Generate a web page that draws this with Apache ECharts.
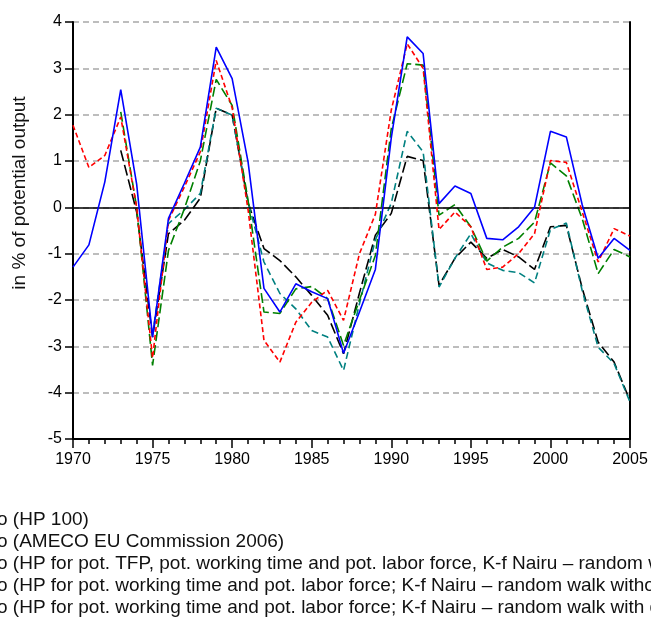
<!DOCTYPE html>
<html>
<head>
<meta charset="utf-8">
<script src="https://cdn.jsdelivr.net/npm/echarts@6/dist/echarts.min.js"></script>
<style>
    body { margin: 0; background: #ffffff; }
    #main { width: 651px; height: 620px; }
</style>
</head>
<body>
<div id="main"></div>
<script>
// years 1970 - 2005
let years = [];
for (let y = 1970; y <= 2005; y++) years.push(y);

let names = [
    'o (HP 100)',
    'o (AMECO EU Commission 2006)',
    'o (HP for pot. TFP, pot. working time and pot. labor force, K-f Nairu \u2013 random walk with drift)',
    'o (HP for pot. working time and pot. labor force; K-f Nairu \u2013 random walk without drift)',
    'o (HP for pot. working time and pot. labor force; K-f Nairu \u2013 random walk with drift)'
];

let hp100 = [-1.29, -0.81, 0.55, 2.54, 0.5, -2.8, -0.24, 0.52, 1.3, 3.46,
    2.78, 0.98, -1.75, -2.26, -1.65, -1.82, -1.97, -3.15, -2.26, -1.34,
    1.5, 3.68, 3.32, 0.08, 0.46, 0.3, -0.67, -0.7, -0.42, 0.0,
    1.64, 1.52, 0.05, -1.1, -0.67, -0.93];

let ameco = [1.77, 0.86, 1.12, 1.95, 0.0, -3.25, -0.28, 0.44, 1.2, 3.17,
    2.15, -0.05, -2.87, -3.34, -2.48, -2.05, -1.79, -2.44, -1.0, -0.15,
    2.1, 3.53, 3.0, -0.48, -0.1, -0.42, -1.34, -1.29, -1.0, -0.57,
    1.01, 0.97, -0.1, -1.18, -0.46, -0.62];

let hpTfp = [null, null, null, 2.06, 0.0, -3.41, -0.93, -0.03, 1.0, 2.76,
    2.2, 0.15, -2.26, -2.29, -1.76, -1.71, -1.97, -2.98, -2.0, -1.04,
    1.7, 3.1, 3.07, -0.17, 0.06, -0.42, -1.16, -0.86, -0.67, -0.32,
    0.96, 0.68, -0.25, -1.43, -0.91, -1.07];

let rwNoDrift = [null, null, null, 1.23, -0.1, -2.8, -0.57, -0.28, 0.2, 2.14,
    1.99, 0.1, -0.89, -1.15, -1.5, -1.9, -2.33, -3.16, -1.85, -0.6,
    -0.13, 1.1, 1.01, -1.68, -1.1, -0.75, -1.1, -0.91, -1.07, -1.34,
    -0.42, -0.39, -1.75, -2.91, -3.34, -4.17];

let rwDrift = [null, null, null, null, null, -2.75, -0.35, -0.05, 0.3, 2.14,
    1.99, 0.12, -1.18, -1.86, -2.19, -2.66, -2.8, -3.52, -2.08, -0.7,
    0.09, 1.64, 1.2, -1.72, -1.1, -0.57, -1.2, -1.36, -1.41, -1.63,
    -0.48, -0.34, -1.8, -3.02, -3.37, -4.2];

function pairs(values) {
    return years.map(function (y, i) { return [y, values[i]]; });
}

let chart = echarts.init(document.getElementById('main'));

let option = {
    backgroundColor: '#ffffff',
    animation: false,
    textStyle: { fontFamily: 'Liberation Sans, Arial, sans-serif' },
    grid: {
        left: 73,
        right: 21,
        top: 22,
        bottom: 181,
        show: true,
        backgroundColor: '#ffffff',
        borderWidth: 0
    },
    // legend swatches sit off the left edge, as in the cropped original
    legend: {
        orient: 'vertical',
        left: -34,
        top: 510,
        height: 200,
        padding: 0,
        itemWidth: 25,
        itemHeight: 14,
        itemGap: 3,
        textStyle: { fontSize: 19, color: '#111111' },
        data: names
    },
    graphic: [
        {
            type: 'text',
            x: 10,
            y: 193,
            rotation: Math.PI / 2,
            style: {
                text: 'in % of potential output',
                font: '19px Liberation Sans, Arial, sans-serif',
                fill: '#111111',
                align: 'center',
                verticalAlign: 'top'
            }
        }
    ],
    xAxis: {
        type: 'value',
        min: 1970,
        max: 2005,
        interval: 5,
        axisLine: { onZero: false, lineStyle: { color: '#000000', width: 2 } },
        axisTick: { length: 9, lineStyle: { color: '#000000', width: 1.5 } },
        minorTick: { show: true, splitNumber: 5, length: 5, lineStyle: { color: '#000000', width: 1.5 } },
        axisLabel: {
            fontSize: 16,
            color: '#000000',
            margin: 13,
            formatter: function (v) { return String(v); }
        },
        splitLine: { show: false }
    },
    yAxis: [
        {
            type: 'value',
            min: -5,
            max: 4,
            interval: 1,
            axisLine: { show: true, lineStyle: { color: '#000000', width: 2 } },
            axisTick: { show: true, length: 8, lineStyle: { color: '#000000', width: 1.5 } },
            axisLabel: { fontSize: 16, color: '#000000', margin: 11 },
            splitLine: { show: true, lineStyle: { color: '#a8a8a8', width: 1.5, type: [6, 4] } }
        },
        {
            type: 'value',
            position: 'right',
            min: -5,
            max: 4,
            interval: 1,
            axisLine: { show: true, lineStyle: { color: '#000000', width: 2 } },
            axisTick: { show: false },
            axisLabel: { show: false },
            splitLine: { show: false }
        }
    ],
    series: [
        {
            name: names[0],
            type: 'line',
            data: pairs(hp100),
            showSymbol: false,
            color: '#0000ff',
            lineStyle: { width: 1.6, type: 'solid' },
            z: 6,
            markLine: {
                silent: true,
                symbol: 'none',
                label: { show: false },
                lineStyle: { color: '#000000', width: 1.5, type: 'solid' },
                data: [{ yAxis: 0 }]
            }
        },
        {
            name: names[1],
            type: 'line',
            data: pairs(ameco),
            showSymbol: false,
            color: '#ff0000',
            lineStyle: { width: 1.6, type: [5, 3] },
            z: 5
        },
        {
            name: names[2],
            type: 'line',
            data: pairs(hpTfp),
            showSymbol: false,
            color: '#008000',
            lineStyle: { width: 1.6, type: [10, 4] },
            z: 4
        },
        {
            name: names[3],
            type: 'line',
            data: pairs(rwNoDrift),
            showSymbol: false,
            color: '#000000',
            lineStyle: { width: 1.6, type: [11, 4] },
            z: 3
        },
        {
            name: names[4],
            type: 'line',
            data: pairs(rwDrift),
            showSymbol: false,
            color: '#008080',
            lineStyle: { width: 1.6, type: [7, 4] },
            z: 3
        }
    ]
};

chart.setOption(option);
</script>
</body>
</html>
